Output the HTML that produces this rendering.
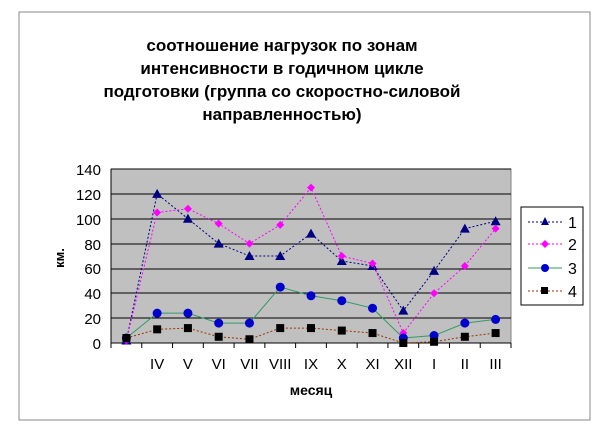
<!DOCTYPE html><html><head><style>body{margin:0;background:#fff}</style></head><body>
<svg width="603" height="443" xmlns="http://www.w3.org/2000/svg" font-family="Liberation Sans, Arial, sans-serif">
<rect x="0" y="0" width="603" height="443" fill="#fff"/>
<rect x="19" y="12" width="571" height="408" fill="none" stroke="#888" stroke-width="1"/>
<g font-size="17" font-weight="bold" text-anchor="middle" fill="#000">
<text x="282" y="51">соотношение нагрузок по зонам</text>
<text x="282" y="74">интенсивности в годичном цикле</text>
<text x="282" y="97">подготовки (группа со скоростно-силовой</text>
<text x="282" y="120">направленностью)</text>
</g>
<rect x="111" y="169" width="400" height="174" fill="#c0c0c0" stroke="#808080"/>
<g stroke="#000" stroke-width="1">
<line x1="111" y1="194" x2="511" y2="194"/><line x1="111" y1="219" x2="511" y2="219"/>
<line x1="111" y1="244" x2="511" y2="244"/><line x1="111" y1="269" x2="511" y2="269"/>
<line x1="111" y1="293" x2="511" y2="293"/><line x1="111" y1="318" x2="511" y2="318"/>
<line x1="111" y1="169" x2="511" y2="169"/>
</g>
<line x1="111" y1="169" x2="111" y2="343" stroke="#000"/>
<line x1="111" y1="343" x2="511" y2="343" stroke="#000"/>
<g id="ticks" stroke="#000"></g>
<g font-size="15" text-anchor="end" fill="#000">
<text x="101" y="349">0</text><text x="101" y="324">20</text><text x="101" y="299">40</text>
<text x="101" y="274">60</text><text x="101" y="250">80</text><text x="101" y="225">100</text>
<text x="101" y="200">120</text><text x="101" y="175">140</text>
</g>
<text x="0" y="0" font-size="13" font-weight="bold" transform="translate(64,258) rotate(-90)" text-anchor="middle">км.</text>
<text x="311" y="395" font-size="14" font-weight="bold" text-anchor="middle">месяц</text>
<g id="xl" font-size="15" text-anchor="middle"></g>
<g id="series"></g>
<rect x="521" y="207" width="62" height="98" fill="#fff" stroke="#000"/>
<g font-size="16">
<line x1="528" y1="222" x2="562" y2="222" stroke="#000080" stroke-dasharray="2,2"/><polygon points="545,217 549,225 541,225" fill="#000080"/><text x="568" y="228">1</text>
<line x1="528" y1="244" x2="562" y2="244" stroke="#ff00ff" stroke-dasharray="2,2"/><polygon points="545,240 549,244 545,248 541,244" fill="#ff00ff"/><text x="568" y="250">2</text>
<line x1="528" y1="268" x2="562" y2="268" stroke="#339966"/><circle cx="545" cy="268" r="4" fill="#0000cc"/><text x="568" y="274">3</text>
<line x1="528" y1="291" x2="562" y2="291" stroke="#993300" stroke-dasharray="2,2"/><rect x="541" y="287" width="7" height="7" fill="#000"/><text x="568" y="297">4</text>
</g>
</svg>
<script>
const ns="http://www.w3.org/2000/svg";
const X=i=>111+400/13*(i+0.5), Y=v=>343-v*174/140;
const labs=["","IV","V","VI","VII","VIII","IX","X","XI","XII","I","II","III"];
const t=document.getElementById("ticks"),xl=document.getElementById("xl");
for(let i=0;i<=13;i++){const l=document.createElementNS(ns,"line");const x=111+400/13*i;l.setAttribute("x1",x);l.setAttribute("x2",x);l.setAttribute("y1",343);l.setAttribute("y2",348);t.appendChild(l);}
labs.forEach((s,i)=>{const e=document.createElementNS(ns,"text");e.setAttribute("x",X(i));e.setAttribute("y",369);e.textContent=s;xl.appendChild(e);});
const S=[
{d:[2,120,100,80,70,70,88,66,62,26,58,92,98],c:"#000080",dash:"2,2",m:"tri",mc:"#000080"},
{d:[2,105,108,96,80,95,125,70,64,8,40,62,92],c:"#ff00ff",dash:"2,2",m:"dia",mc:"#ff00ff"},
{d:[4,24,24,16,16,45,38,34,28,4,6,16,19],c:"#339966",dash:"",m:"cir",mc:"#0000cc"},
{d:[4,11,12,5,3,12,12,10,8,0,1,5,8],c:"#993300",dash:"2,2",m:"sq",mc:"#000"}];
const g=document.getElementById("series");
S.forEach(s=>{const p=document.createElementNS(ns,"polyline");p.setAttribute("points",s.d.map((v,i)=>X(i)+","+Y(v)).join(" "));p.setAttribute("fill","none");p.setAttribute("stroke",s.c);if(s.dash)p.setAttribute("stroke-dasharray",s.dash);g.appendChild(p);
s.d.forEach((v,i)=>{const x=X(i),y=Y(v);let e;
if(s.m=="tri"){e=document.createElementNS(ns,"polygon");e.setAttribute("points",`${x},${y-5} ${x+5},${y+4} ${x-5},${y+4}`);}
else if(s.m=="dia"){e=document.createElementNS(ns,"polygon");e.setAttribute("points",`${x},${y-4} ${x+4},${y} ${x},${y+4} ${x-4},${y}`);}
else if(s.m=="cir"){e=document.createElementNS(ns,"circle");e.setAttribute("cx",x);e.setAttribute("cy",y);e.setAttribute("r",4.5);}
else{e=document.createElementNS(ns,"rect");e.setAttribute("x",x-4);e.setAttribute("y",y-4);e.setAttribute("width",8);e.setAttribute("height",8);}
e.setAttribute("fill",s.mc);g.appendChild(e);});});
</script>
</body></html>
